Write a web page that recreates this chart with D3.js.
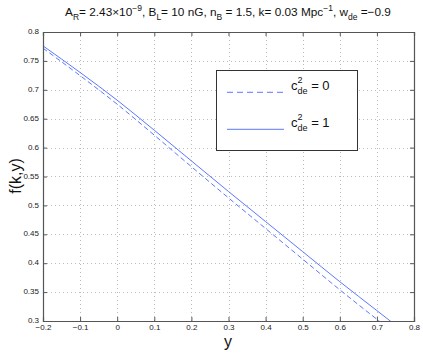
<!DOCTYPE html>
<html>
<head>
<meta charset="UTF-8">
<script src="https://d3js.org/d3.v7.min.js"></script>
<style>
body{margin:0;background:#fff;font-family:"Liberation Sans",Arial,sans-serif;}
</style>
</head>
<body>
<svg width="423" height="354"></svg>
<script>
// values
const yVals = [-0.2, -0.1, 0, 0.1, 0.2, 0.3, 0.4, 0.5, 0.6, 0.7, 0.8];
const fCs0 = [0.772, 0.7245, 0.675, 0.6215, 0.567, 0.513, 0.460, 0.407, 0.354, 0.303, 0.253];
const fCs1 = [0.776, 0.730, 0.682, 0.630, 0.577, 0.524, 0.472, 0.420, 0.368, 0.318, 0.268];
const xTicks = [-0.2, -0.1, 0, 0.1, 0.2, 0.3, 0.4, 0.5, 0.6, 0.7, 0.8];
const yTicks = [0.3, 0.35, 0.4, 0.45, 0.5, 0.55, 0.6, 0.65, 0.7, 0.75, 0.8];

const svg = d3.select("svg");
const pLeft = 43, pRight = 414, pTop = 32, pBottom = 321;
const blue = "#4a68ff";

const x = d3.scaleLinear().domain([-0.2, 0.8]).range([pLeft, pRight]);
const y = d3.scaleLinear().domain([0.3, 0.8]).range([pBottom, pTop]);

const fmt = d => d3.format("")(+d.toFixed(2)).replace("-", "\u2212");

// grid
svg.append("g").selectAll("line").data(xTicks.slice(1, -1)).join("line")
	.attr("x1", d => Math.round(x(d)) + 0.5).attr("x2", d => Math.round(x(d)) + 0.5).attr("y1", pTop).attr("y2", pBottom)
	.attr("stroke", "#bbb").attr("stroke-width", 1).attr("stroke-dasharray", "1,3");
svg.append("g").selectAll("line").data(yTicks.slice(1, -1)).join("line")
	.attr("y1", d => Math.round(y(d)) + 0.5).attr("y2", d => Math.round(y(d)) + 0.5).attr("x1", pLeft).attr("x2", pRight)
	.attr("stroke", "#bbb").attr("stroke-width", 1).attr("stroke-dasharray", "1,3");

svg.append("clipPath").attr("id", "clip").append("rect")
	.attr("x", pLeft).attr("y", pTop).attr("width", pRight - pLeft).attr("height", pBottom - pTop);

const line = d3.line().x((d, i) => x(yVals[i])).y(d => y(d)).curve(d3.curveMonotoneX);

svg.append("path").datum(fCs0).attr("d", line).attr("clip-path", "url(#clip)")
	.attr("fill", "none").style("stroke", blue).attr("stroke-width", 0.9)
	.attr("stroke-dasharray", "5,3");
svg.append("path").datum(fCs1).attr("d", line).attr("clip-path", "url(#clip)")
	.attr("fill", "none").style("stroke", blue).attr("stroke-width", 0.9);

// axes with inward ticks
const xAxis = d3.axisBottom(x).tickValues(xTicks).tickSize(-4).tickPadding(4).tickFormat(fmt);
const yAxis = d3.axisLeft(y).tickValues(yTicks).tickSize(-4).tickPadding(4).tickFormat(fmt);

const gx = svg.append("g").attr("transform", `translate(0,${pBottom})`).call(xAxis);
const gy = svg.append("g").attr("transform", `translate(${pLeft},0)`).call(yAxis);
svg.append("g").attr("transform", `translate(0,${pTop})`)
	.call(d3.axisTop(x).tickValues(xTicks).tickSize(-4).tickFormat(""));
svg.append("g").attr("transform", `translate(${pRight},0)`)
	.call(d3.axisRight(y).tickValues(yTicks).tickSize(-4).tickFormat(""));

svg.selectAll(".domain").attr("stroke", "#555").attr("stroke-width", 1.2);
svg.selectAll(".tick line").attr("stroke", "#555");
svg.selectAll(".tick text").attr("font-family", "Liberation Sans, Arial, sans-serif")
	.attr("font-size", 8).attr("fill", "#222");
gx.selectAll(".tick text").attr("dy", "0.6em");
gy.selectAll(".tick text").attr("dy", "0.2em");

// axis labels
svg.append("text").attr("x", 228).attr("y", 347).attr("text-anchor", "middle")
	.attr("font-size", 16).attr("fill", "#111").text("y");
svg.append("text").attr("transform", "translate(21,176) rotate(-90)").attr("text-anchor", "middle")
	.attr("font-size", 16).attr("fill", "#111").text("f(k,y)");

// title
const title = svg.append("text").attr("x", 228).attr("y", 16).attr("text-anchor", "middle")
	.attr("font-size", 11.8).attr("fill", "#111");
title.append("tspan").text("A");
title.append("tspan").attr("font-size", 8.5).attr("dy", 4).text("R");
title.append("tspan").attr("dy", -4).text("= 2.43\u00d710");
title.append("tspan").attr("font-size", 8.5).attr("dy", -5).text("\u22129");
title.append("tspan").attr("dy", 5).text(", B");
title.append("tspan").attr("font-size", 8.5).attr("dy", 4).text("L");
title.append("tspan").attr("dy", -4).text("= 10 nG, n");
title.append("tspan").attr("font-size", 8.5).attr("dy", 4).text("B");
title.append("tspan").attr("dy", -4).text(" = 1.5, k= 0.03 Mpc");
title.append("tspan").attr("font-size", 8.5).attr("dy", -5).text("\u22121");
title.append("tspan").attr("dy", 5).text(", w");
title.append("tspan").attr("font-size", 8.5).attr("dy", 4).text("de");
title.append("tspan").attr("dy", -4).text(" =\u22120.9");

// legend
const legendItems = ["0", "1"];
const lg = svg.append("g");
lg.append("rect").attr("x", 216.5).attr("y", 70.5).attr("width", 141).attr("height", 80)
	.attr("fill", "#fff").attr("stroke", "#333").attr("stroke-width", 1);
legendItems.forEach((v, i) => {
	const ly = 92.3 + i * 37;
	lg.append("line").attr("x1", 227).attr("x2", 284).attr("y1", ly).attr("y2", ly)
		.style("stroke", blue).attr("stroke-width", 0.9)
		.attr("stroke-dasharray", i === 0 ? "6,4" : "none");
	const t = lg.append("text").attr("x", 291).attr("y", ly - 2).attr("font-size", 13).attr("fill", "#111");
	t.append("tspan").text("c");
	t.append("tspan").attr("font-size", 9).attr("dy", -7).text("2");
	t.append("tspan").attr("font-size", 9).attr("dy", 11).attr("dx", -5).text("de");
	t.append("tspan").attr("dy", -4).text(" = " + v);
});
</script>
</body>
</html>
